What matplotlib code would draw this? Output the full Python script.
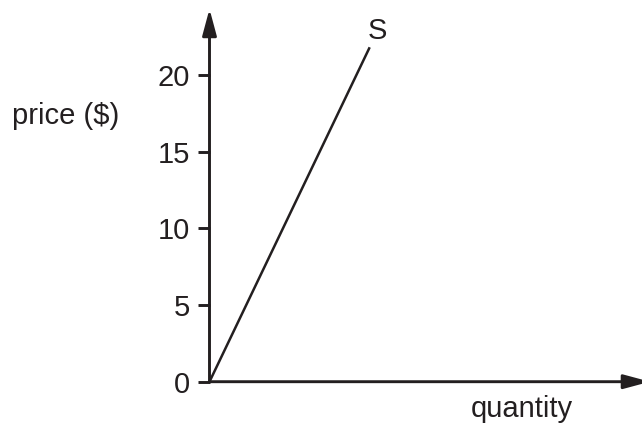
import matplotlib
matplotlib.use("Agg")
import matplotlib.pyplot as plt

# supply curve: quantity vs price
quantity = [0, 8]
price = [0, 21.8]
price_ticks = [0, 5, 10, 15, 20]

plt.rcParams['font.family'] = ['Liberation Sans', 'DejaVu Sans']
ink = '#231f20'

fig = plt.figure(figsize=(6.42, 4.25), dpi=100)
ax = fig.add_axes([209.5 / 642, 43.3 / 425, 432.5 / 642, 369.7 / 425])
ax.set_xlim(0, 21.6)
ax.set_ylim(0, 24.1)

for s in ['top', 'right', 'left', 'bottom']:
    ax.spines[s].set_visible(False)

# axes drawn as arrows
arrow = dict(arrowstyle='-|>,head_length=1.6,head_width=0.43',
             color=ink, lw=2.1, shrinkA=0, shrinkB=0, mutation_scale=10)
ax.annotate('', xy=(0, 24.3), xytext=(0, 0), arrowprops=arrow, annotation_clip=False)
ax.annotate('', xy=(22.0, 0), xytext=(0, 0), arrowprops=arrow, annotation_clip=False)

ax.plot(quantity, price, color=ink, lw=1.8, solid_capstyle='butt')
ax.text(8.36, 22.85, 'S', fontsize=21, ha='center', va='center', color=ink)

ax.set_xticks([])
ax.set_yticks(price_ticks)
ax.tick_params(axis='y', length=9, width=2.1, color=ink, pad=5,
               labelsize=21, labelcolor=ink)

fig.text(12 / 642, 1 - 116 / 425, 'price ($)', fontsize=21, ha='left', va='center',
         color=ink)
fig.text(522 / 642, 1 - 409 / 425, 'quantity', fontsize=21, ha='center', va='center',
         color=ink)

fig.savefig('out.png', dpi=100)
